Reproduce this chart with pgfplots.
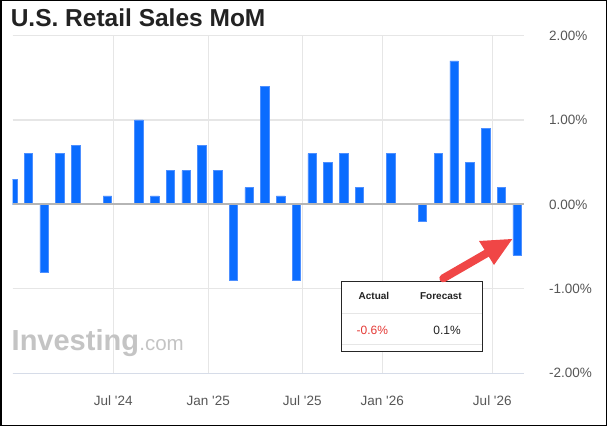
\documentclass[border=0pt]{standalone}
\usepackage{pgfplots}
\pgfplotsset{compat=1.18}
\usepackage{fontspec}
\setmainfont{Liberation Sans}
\definecolor{barblue}{HTML}{0A6CFF}
\definecolor{baredge}{HTML}{4D8FFF}
\definecolor{gridgray}{HTML}{E6E6E6}
\definecolor{zerogray}{HTML}{B5B5B5}
\definecolor{bottomline}{HTML}{D6DCE8}
\definecolor{ticktext}{HTML}{575757}
\definecolor{titletext}{HTML}{222222}
\definecolor{wmgray}{HTML}{C4C4C4}
\definecolor{arrowred}{HTML}{F04646}
\definecolor{valred}{HTML}{E53935}
\pgfplotstableread{
x y
0 0.3
1 0.6
2 -0.8
3 0.6
4 0.7
6 0.1
8 1.0
9 0.1
10 0.4
11 0.4
12 0.7
13 0.4
14 -0.9
15 0.2
16 1.4
17 0.1
18 -0.9
19 0.6
20 0.5
21 0.6
22 0.2
24 0.6
26 -0.2
27 0.6
28 1.7
29 0.5
30 0.9
31 0.2
32 -0.6
}\retail
\begin{document}
\begin{tikzpicture}[x=1pt,y=1pt]
\path[use as bounding box] (0,0) rectangle (607,426);
\fill[white] (0,0) rectangle (607,426);
\begin{axis}[
  at={(12.7pt,52.7pt)}, anchor=south west,
  scale only axis, width=511.6pt, height=337.8pt,
  xmin=0, xmax=32.46, ymin=-2, ymax=2,
  axis line style={draw=none},
  major tick length=0pt,
  tick style={draw=none},
  grid=major,
  grid style={gridgray, line width=1.2pt},
  xtick={6.381,12.409,18.373,23.449,30.429},
  xticklabels={Jul \textquotesingle24, Jan \textquotesingle25, Jul \textquotesingle25, Jan \textquotesingle26, Jul \textquotesingle26},
  xticklabel style={font=\fontsize{13.5}{14}\selectfont, text=ticktext, anchor=north, inner sep=0pt, text height=9.7pt, text depth=0pt},
  xticklabel shift=22.4pt,
  ytick={-2,-1,0,1,2},
  yticklabels={-2.00\%,-1.00\%,0.00\%,1.00\%,2.00\%},
  yticklabel pos=right,
  yticklabel style={font=\fontsize{13.5}{14}\selectfont, text=ticktext, anchor=west, inner sep=0pt},
  yticklabel shift=24.7pt,
  clip=true,
]
\addplot[ybar, bar width=8.5pt, bar shift=0pt, fill=barblue, draw=baredge, line width=0.5pt] table[x=x,y=y]{\retail};
\draw[bottomline, line width=1.5pt] (axis cs:0,-2) -- (axis cs:32.46,-2);
\draw[zerogray, line width=2pt] (axis cs:0,0) -- (axis cs:32.46,0);
\end{axis}
% title
\node[anchor=base west, inner sep=0pt, text=titletext, font=\bfseries\fontsize{24.5}{26}\selectfont] at (10.6,399) {U.S. Retail Sales MoM};
% watermark
\node[anchor=base west, inner sep=0pt, text=wmgray, font=\bfseries\fontsize{29}{30}\selectfont] (inv) at (11.5,76) {Investing};
\node[anchor=base west, inner sep=0pt, text=wmgray, font=\fontsize{20.5}{22}\selectfont] at (inv.base east) {.com};
% tooltip
\draw[fill=white, draw=black!85, line width=1pt] (341.7,74.9) rectangle (482.3,144.3);
\draw[gridgray, line width=0.8pt] (342.2,112.7) -- (481.8,112.7);
\draw[gridgray, line width=0.8pt] (342.2,82) -- (481.8,82);
\node[anchor=west, inner sep=0pt, font=\bfseries\fontsize{10}{11}\selectfont, text=titletext] at (358.5,130.3) {Actual};
\node[anchor=east, inner sep=0pt, font=\bfseries\fontsize{10}{11}\selectfont, text=titletext] at (462,130.3) {Forecast};
\node[anchor=west, inner sep=0pt, font=\fontsize{12}{13}\selectfont, text=valred] at (356.5,96) {-0.6\%};
\node[anchor=east, inner sep=0pt, font=\fontsize{12}{13}\selectfont, text=titletext] at (461,96) {0.1\%};
% arrow
\draw[arrowred, line width=8pt, line cap=round] (443.3,147.7) -- (488,173.5);
\fill[arrowred] (512.3,187) -- (479,185) -- (494,161) -- cycle;
% frame
\draw[black, line width=1.5pt] (0.75,0.75) rectangle (606.25,425.25);
\end{tikzpicture}
\end{document}
